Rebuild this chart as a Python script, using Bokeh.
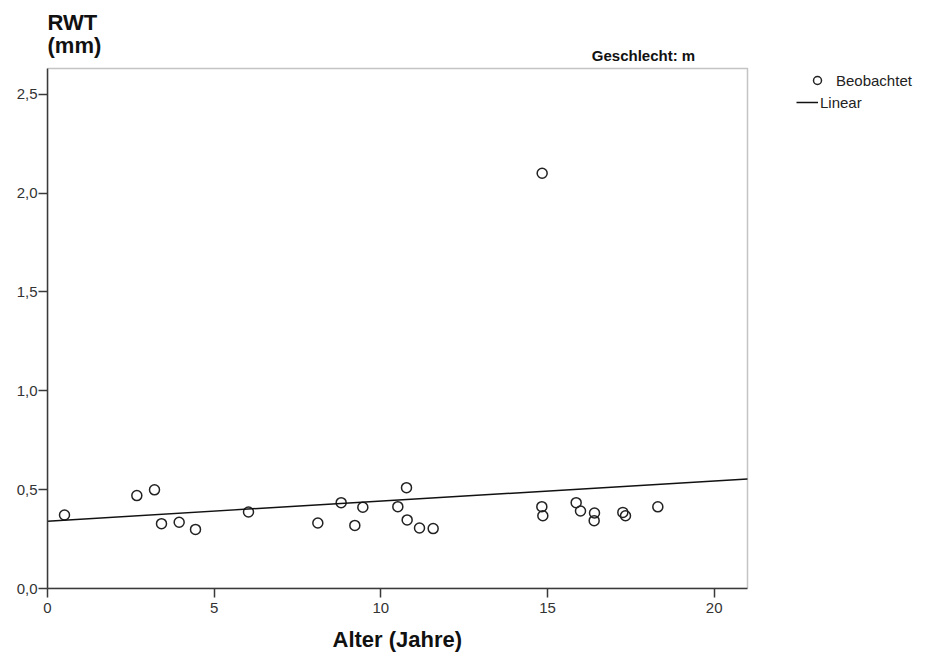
import numpy as np
from bokeh.plotting import figure
from bokeh.models import (ColumnDataSource, Range1d, FixedTicker, Label,
                          Legend, LegendItem, BoxAnnotation, Title)
from bokeh.embed import file_html
from bokeh.resources import INLINE

# Observed wall thickness (RWT, mm) by age (years), male subgroup
alter = [0.51, 2.68, 3.21, 3.42, 3.95, 4.44, 6.03, 8.11, 8.81, 9.22, 9.46,
         10.51, 10.77, 10.79, 11.16, 11.57, 14.83, 14.86, 14.84, 15.86, 15.99,
         16.41, 16.40, 17.26, 17.34, 18.31]
rwt = [0.372, 0.470, 0.499, 0.328, 0.335, 0.299, 0.387, 0.331, 0.434, 0.319,
       0.411, 0.414, 0.510, 0.347, 0.306, 0.303, 0.414, 0.368, 2.10, 0.434,
       0.392, 0.382, 0.343, 0.385, 0.368, 0.413]

x_ticks = [0, 5, 10, 15, 20]
x_tick_labels = ["0", "5", "10", "15", "20"]
y_ticks = [0.0, 0.5, 1.0, 1.5, 2.0, 2.5]
y_tick_labels = ["0,0", "0,5", "1,0", "1,5", "2,0", "2,5"]

# data box extent
X_MAX = 21.0
Y_MAX = 2.63

# ordinary least squares fit over all observations
slope, intercept = np.polyfit(alter, rwt, 1)
fit_x = [0.0, X_MAX]
fit_y = [intercept + slope * v for v in fit_x]

FONT = "Liberation Sans"
DARK = "#3a3a3a"

W, H = 926, 662
LEFT, BOTTOM = 47, 74
BOX_W, BOX_H = 700, 520          # pixel size of the boxed data area
FRAME_W, FRAME_H = W - LEFT, H - BOTTOM

# the frame reaches the canvas top and right edge so the headings and the
# legend can live inside it; the data box itself is drawn as an annotation
p = figure(width=W, height=H, output_backend="svg", toolbar_location=None,
           x_range=Range1d(0, X_MAX * FRAME_W / BOX_W),
           y_range=Range1d(0, Y_MAX * FRAME_H / BOX_H),
           min_border_left=LEFT, min_border_right=0,
           min_border_top=0, min_border_bottom=BOTTOM)
p.xgrid.visible = False
p.ygrid.visible = False
p.outline_line_color = None
p.background_fill_color = "white"
p.border_fill_color = "white"

p.add_layout(BoxAnnotation(left=0, right=X_MAX, bottom=0, top=Y_MAX,
                           fill_alpha=0, line_color=DARK, line_width=1.5))

for ax in (p.xaxis[0], p.yaxis[0]):
    ax.axis_line_color = DARK
    ax.axis_line_width = 1.5
    ax.major_tick_line_color = DARK
    ax.major_tick_line_width = 1.5
    ax.major_tick_in = 0
    ax.major_tick_out = 9
    ax.minor_tick_line_color = None
    ax.major_label_text_font = FONT
    ax.major_label_text_font_size = "15px"
    ax.major_label_text_color = "#333333"

p.xaxis.bounds = (0, X_MAX)
p.xaxis.ticker = FixedTicker(ticks=x_ticks)
p.xaxis.major_label_overrides = {t: s for t, s in zip(x_ticks, x_tick_labels)}
p.xaxis.major_label_standoff = 5
p.yaxis.bounds = (0, Y_MAX)
p.yaxis.ticker = FixedTicker(ticks=y_ticks)
p.yaxis.major_label_overrides = {t: s for t, s in zip(y_ticks, y_tick_labels)}
p.yaxis.major_label_standoff = 1

# x-axis title, placed under the middle of the data box
x_title = Title(text="Alter (Jahre)", align="left", offset=285,
                standoff=18, text_font=FONT, text_font_style="bold",
                text_font_size="22px", text_color="#111111")
p.add_layout(x_title, "below")

src = ColumnDataSource(dict(x=alter, y=rwt))
pts = p.scatter("x", "y", source=src, size=10, marker="circle",
                fill_color=None, line_color="#222222", line_width=1.5)
fit = p.line(fit_x, fit_y, line_color="#111111", line_width=1.5)


def canvas_label(text, cx, cy, size, align="left"):
    """Place a bold heading by canvas pixel position (cy = baseline)."""
    p.add_layout(Label(x=cx - LEFT, y=FRAME_H - cy,
                       x_units="screen", y_units="screen",
                       text=text, text_font=FONT, text_font_style="bold",
                       text_font_size=size, text_baseline="alphabetic",
                       text_align=align, text_color="#111111"))


canvas_label("RWT", 47, 22, "22px")
canvas_label("(mm)", 47, 45, "22px")
canvas_label("Geschlecht: m", 643, 55, "15px", align="center")


def legend_entry(item, cx, cy, glyph_w, standoff):
    """One legend row; cx/cy = canvas position of the glyph box's left/centre."""
    lg = Legend(items=[item], location=(cx - LEFT, FRAME_H - cy - 10),
                padding=0, margin=0, glyph_width=glyph_w, glyph_height=20,
                label_height=20, label_standoff=standoff,
                border_line_alpha=0, background_fill_alpha=0,
                label_text_font=FONT, label_text_font_size="15px",
                label_text_color="#222222")
    p.add_layout(lg, "center")


legend_entry(LegendItem(label="Beobachtet", renderers=[pts]), 807, 80, 20, 9)
legend_entry(LegendItem(label="Linear", renderers=[fit]), 796, 102, 22, 2)

open("out.html", "w").write(file_html(p, INLINE))
